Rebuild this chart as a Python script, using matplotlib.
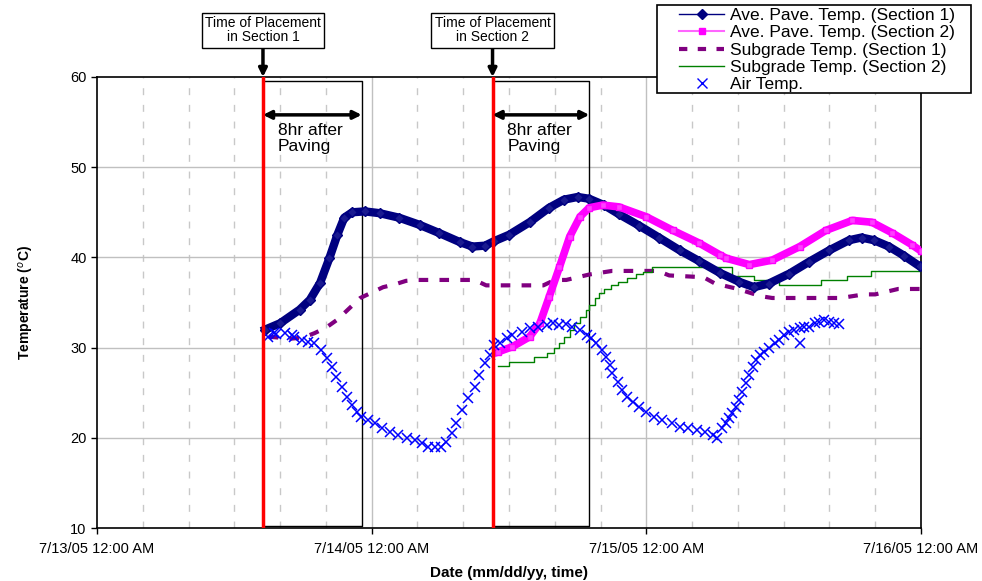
import datetime as dt
import numpy as np
import matplotlib
matplotlib.use("Agg")
import matplotlib.pyplot as plt
import matplotlib.dates as mdates
from matplotlib.lines import Line2D
from matplotlib.patches import Rectangle
from matplotlib.ticker import FuncFormatter

plt.rcParams['font.family'] = ['Liberation Sans', 'DejaVu Sans']

# hours after 7/13/05 12:00 AM
pave1_h = [14.7, 16.0, 17.7, 18.6, 19.5, 20.3, 21.0, 21.6, 22.3, 23.4, 24.7, 26.4, 28.2,
           29.9, 31.7, 32.8, 33.9, 34.7, 36.0, 37.8, 39.5, 40.8, 42.0, 43.0, 44.3, 45.6,
           47.4, 49.1, 50.9, 52.6, 54.4, 56.1, 57.4, 58.7, 60.5, 62.2, 64.0, 65.7, 66.8,
           67.9, 69.2, 70.5, 71.9]
pave1_t = [32.0, 32.7, 34.2, 35.3, 37.2, 39.9, 42.5, 44.4, 45.0, 45.1, 44.9, 44.4, 43.6,
           42.7, 41.7, 41.2, 41.3, 41.8, 42.5, 43.9, 45.5, 46.4, 46.7, 46.5, 45.8, 44.8,
           43.5, 42.2, 40.8, 39.6, 38.3, 37.3, 36.7, 37.1, 38.2, 39.5, 40.8, 41.9, 42.2,
           41.9, 41.2, 40.2, 39.0]

pave2_h = [35.0, 36.3, 37.8, 38.7, 39.5, 40.4, 41.3, 42.2, 43.0, 44.2, 45.6, 48.0, 50.3,
           52.6, 54.4, 55.0, 57.0, 59.0, 61.4, 63.7, 66.0, 67.7, 69.5, 71.2, 72.0]
pave2_t = [29.5, 30.1, 31.2, 32.7, 35.6, 38.9, 42.3, 44.5, 45.5, 45.8, 45.6, 44.5, 43.0,
           41.6, 40.3, 39.9, 39.2, 39.7, 41.2, 43.0, 44.1, 43.9, 42.7, 41.4, 40.7]

sub1_h = [15.0, 16.0, 17.0, 18.0, 19.0, 20.0, 21.0, 22.0, 23.0, 24.0, 25.0, 26.0, 27.0,
          28.0, 33.0, 34.0, 39.0, 40.0, 41.0, 42.0, 43.0, 44.0, 45.0, 49.0, 50.0, 53.0,
          54.0, 55.0, 56.0, 57.0, 58.0, 59.0, 65.0, 66.0, 67.0, 68.0, 69.0, 70.0, 72.0]
sub1_t = [31.2, 31.1, 31.0, 31.1, 31.6, 32.2, 33.1, 34.3, 35.5, 36.1, 36.7, 37.0, 37.4,
          37.5, 37.5, 36.9, 36.9, 37.5, 37.5, 37.8, 38.1, 38.3, 38.5, 38.5, 38.0, 37.8,
          37.1, 36.8, 36.5, 36.1, 35.7, 35.5, 35.5, 35.7, 35.9, 35.9, 36.2, 36.5, 36.5]

sub2_h = [35.0, 36.0, 38.2, 39.3, 39.9, 40.4, 40.8, 41.3, 41.7, 42.2, 42.7, 43.0, 43.5,
          43.9, 44.3, 44.9, 45.5, 46.3, 47.1, 47.7, 48.5, 55.5, 57.4, 59.6, 63.3, 65.5,
          67.6, 72.0]
sub2_t = [28.0, 28.4, 29.0, 29.4, 30.0, 30.5, 31.2, 32.0, 32.7, 33.4, 34.2, 34.7, 35.5,
          36.1, 36.5, 36.9, 37.3, 37.7, 38.2, 38.4, 38.9, 37.9, 37.5, 36.9, 37.5, 37.9,
          38.5, 38.5]

air_h = [14.9, 15.5, 15.6, 16.4, 17.0, 17.2, 17.9, 18.4, 19.0, 19.6, 20.1, 20.5, 20.9,
         21.4, 21.8, 22.3, 22.7, 23.1, 23.7, 24.3, 24.9, 25.6, 26.3, 27.1, 27.8, 28.4,
         28.9, 29.5, 30.1, 30.5, 31.0, 31.4, 31.9, 32.4, 33.0, 33.4, 33.9, 34.3, 34.7,
         35.2, 35.8, 36.3, 37.1, 37.8, 38.5, 39.3, 39.8, 40.4, 41.0, 41.5, 42.2, 42.8,
         43.2, 43.6, 44.1, 44.5, 44.8, 45.0, 45.5, 45.9, 46.3, 46.8, 47.4, 48.0, 48.7,
         49.4, 50.2, 50.9, 51.6, 52.4, 53.1, 53.8, 54.2, 54.6, 55.0, 55.2, 55.5, 55.8,
         56.1, 56.4, 56.7, 57.0, 57.3, 57.6, 57.9, 58.3, 58.7, 59.2, 59.6, 60.0, 60.5,
         60.9, 61.4, 61.4, 61.8, 62.2, 62.7, 63.1, 63.5, 64.0, 64.4, 64.8]
air_t = [31.2, 31.6, 31.5, 31.6, 31.4, 31.2, 30.8, 30.6, 30.5, 29.7, 28.8, 27.8, 26.7,
         25.6, 24.5, 23.6, 22.9, 22.3, 22.0, 21.6, 21.1, 20.6, 20.3, 20.0, 19.8, 19.4,
         19.0, 19.0, 19.0, 19.5, 20.5, 21.6, 23.1, 24.4, 25.6, 27.0, 28.3, 29.2, 30.3,
         30.5, 31.1, 31.4, 31.7, 32.2, 32.3, 32.5, 32.7, 32.5, 32.6, 32.3, 32.0, 31.4,
         31.1, 30.5, 29.7, 29.0, 28.1, 27.2, 26.2, 25.3, 24.5, 24.0, 23.4, 22.9, 22.3,
         22.0, 21.6, 21.2, 21.1, 20.9, 20.6, 20.3, 20.0, 21.1, 21.6, 22.2, 22.7, 23.4,
         24.2, 25.1, 26.1, 27.0, 27.8, 28.6, 29.2, 29.5, 30.0, 30.5, 30.8, 31.4, 31.7,
         32.0, 32.2, 30.5, 32.3, 32.3, 32.7, 32.8, 33.1, 32.8, 32.7, 32.6]

place_h = [14.5, 34.56]
box_end_h = [23.13, 43.02]
place_labels = ["Time of Placement\nin Section 1", "Time of Placement\nin Section 2"]

base = dt.datetime(2005, 7, 13)


def to_dates(hours):
    return [base + dt.timedelta(hours=h) for h in hours]


fig = plt.figure(figsize=(9.82, 5.81), dpi=100)
ax = fig.add_axes([0.0988, 0.0912, 0.8391, 0.7763])

# grid
for d in range(1, 3):
    ax.axvline(base + dt.timedelta(days=d), color='#c0c0c0', lw=1, zorder=0)
for h in range(4, 72, 4):
    if h % 24:
        ax.axvline(base + dt.timedelta(hours=h), color='#c8c8c8', lw=1,
                   ls=(0, (5, 7)), zorder=0)
for t in range(20, 60, 10):
    ax.axhline(t, color='#c0c0c0', lw=1, zorder=0)

navy = '#000080'
ax.plot(to_dates(pave1_h), pave1_t, color=navy, lw=6, marker='D', ms=5,
        mfc='#1a1a90', mec=navy, zorder=4)
ax.plot(to_dates(pave2_h), pave2_t, color='#ff00ff', lw=5.5, marker='s', ms=4,
        mfc='#ff40ff', mec='#ff00ff', zorder=4)
ax.plot(to_dates(sub1_h), sub1_t, color='#800080', lw=3, ls=(0, (2.3, 2.7)), zorder=3)
ax.plot(to_dates(sub2_h), sub2_t, color='#008000', lw=1, drawstyle='steps-post', zorder=3)
ax.plot(to_dates(air_h), air_t, ls='none', marker='x', ms=6.5, mew=1.1,
        color='#0000ff', zorder=5)

# placement lines, 8 hr boxes and arrows
for ph, eh, lab in zip(place_h, box_end_h, place_labels):
    p = base + dt.timedelta(hours=ph)
    e = base + dt.timedelta(hours=eh)
    ax.axvline(p, color='#ff0000', lw=2.5, zorder=6)
    ax.plot([p, e, e, p], [59.6, 59.6, 10.2, 10.2], color='black', lw=1, zorder=2)
    ax.annotate('', xy=(e, 55.8), xytext=(p, 55.8),
                arrowprops=dict(arrowstyle='<|-|>', color='black', lw=2.5,
                                mutation_scale=12, shrinkA=0, shrinkB=0), zorder=7)
    ax.text(base + dt.timedelta(hours=ph + 1.3), 54.9, "8hr after\nPaving",
            fontsize=12.5, va='top', ha='left', linespacing=1.05)
    ax.annotate(lab, xy=(p, 60), xytext=(p, 65.2), textcoords='data',
                ha='center', va='center', fontsize=10, linespacing=1.0,
                annotation_clip=False,
                bbox=dict(boxstyle='square,pad=0.25', fc='white', ec='black', lw=1),
                arrowprops=dict(arrowstyle='-|>', color='black', lw=2.5,
                                mutation_scale=12, shrinkA=0, shrinkB=0))

ax.set_xlim(base, base + dt.timedelta(days=3))
ax.set_ylim(10, 60)
ax.set_yticks(range(10, 61, 10))
ax.set_xticks([base + dt.timedelta(days=d) for d in range(4)])
ax.xaxis.set_major_formatter(FuncFormatter(
    lambda v, pos: (lambda d: f"{d.month}/{d.day}/{d:%y} {d:%I:%M %p}")(mdates.num2date(v))))
ax.tick_params(axis='both', labelsize=10.5, direction='out', length=4, width=1)
ax.tick_params(axis='x', pad=6)
for s in ax.spines.values():
    s.set_linewidth(1.2)

ax.set_xlabel("Date (mm/dd/yy, time)", fontsize=11, fontweight='bold', labelpad=7)
ax.set_ylabel("Temperature ($^o$C)", fontsize=10, fontweight='bold', labelpad=25)

# legend: frame drawn separately so it can be wider than the entries
handles = [
    Line2D([], [], color=navy, lw=1, marker='D', ms=5),
    Line2D([], [], color='#ff66ff', lw=1.5, marker='s', ms=5, mfc='#ff00ff', mec='#ff00ff'),
    Line2D([], [], color='#800080', lw=3, ls=(0, (2, 2.5))),
    Line2D([], [], color='#008000', lw=1),
    Line2D([], [], ls='none', marker='x', color='#0000ff', ms=7),
]
labels = ["Ave. Pave. Temp. (Section 1)", "Ave. Pave. Temp. (Section 2)",
          "Subgrade Temp. (Section 1)", "Subgrade Temp. (Section 2)", "Air Temp."]
W, H = 982.0, 581.0
fig.add_artist(Rectangle((657 / W, 1 - 93 / H), (971 - 657) / W, (93 - 5) / H,
                         transform=fig.transFigure, fc='white', ec='black', lw=1.2,
                         zorder=4))
leg = fig.legend(handles, labels, loc='upper left', bbox_to_anchor=(679 / W, 1 - 8 / H),
                 fontsize=12.5, labelspacing=0.12, handlelength=2.6, handletextpad=0.35,
                 borderpad=0.0, borderaxespad=0.0, frameon=False)
leg.set_zorder(5)

fig.savefig("out.png", dpi=100)
